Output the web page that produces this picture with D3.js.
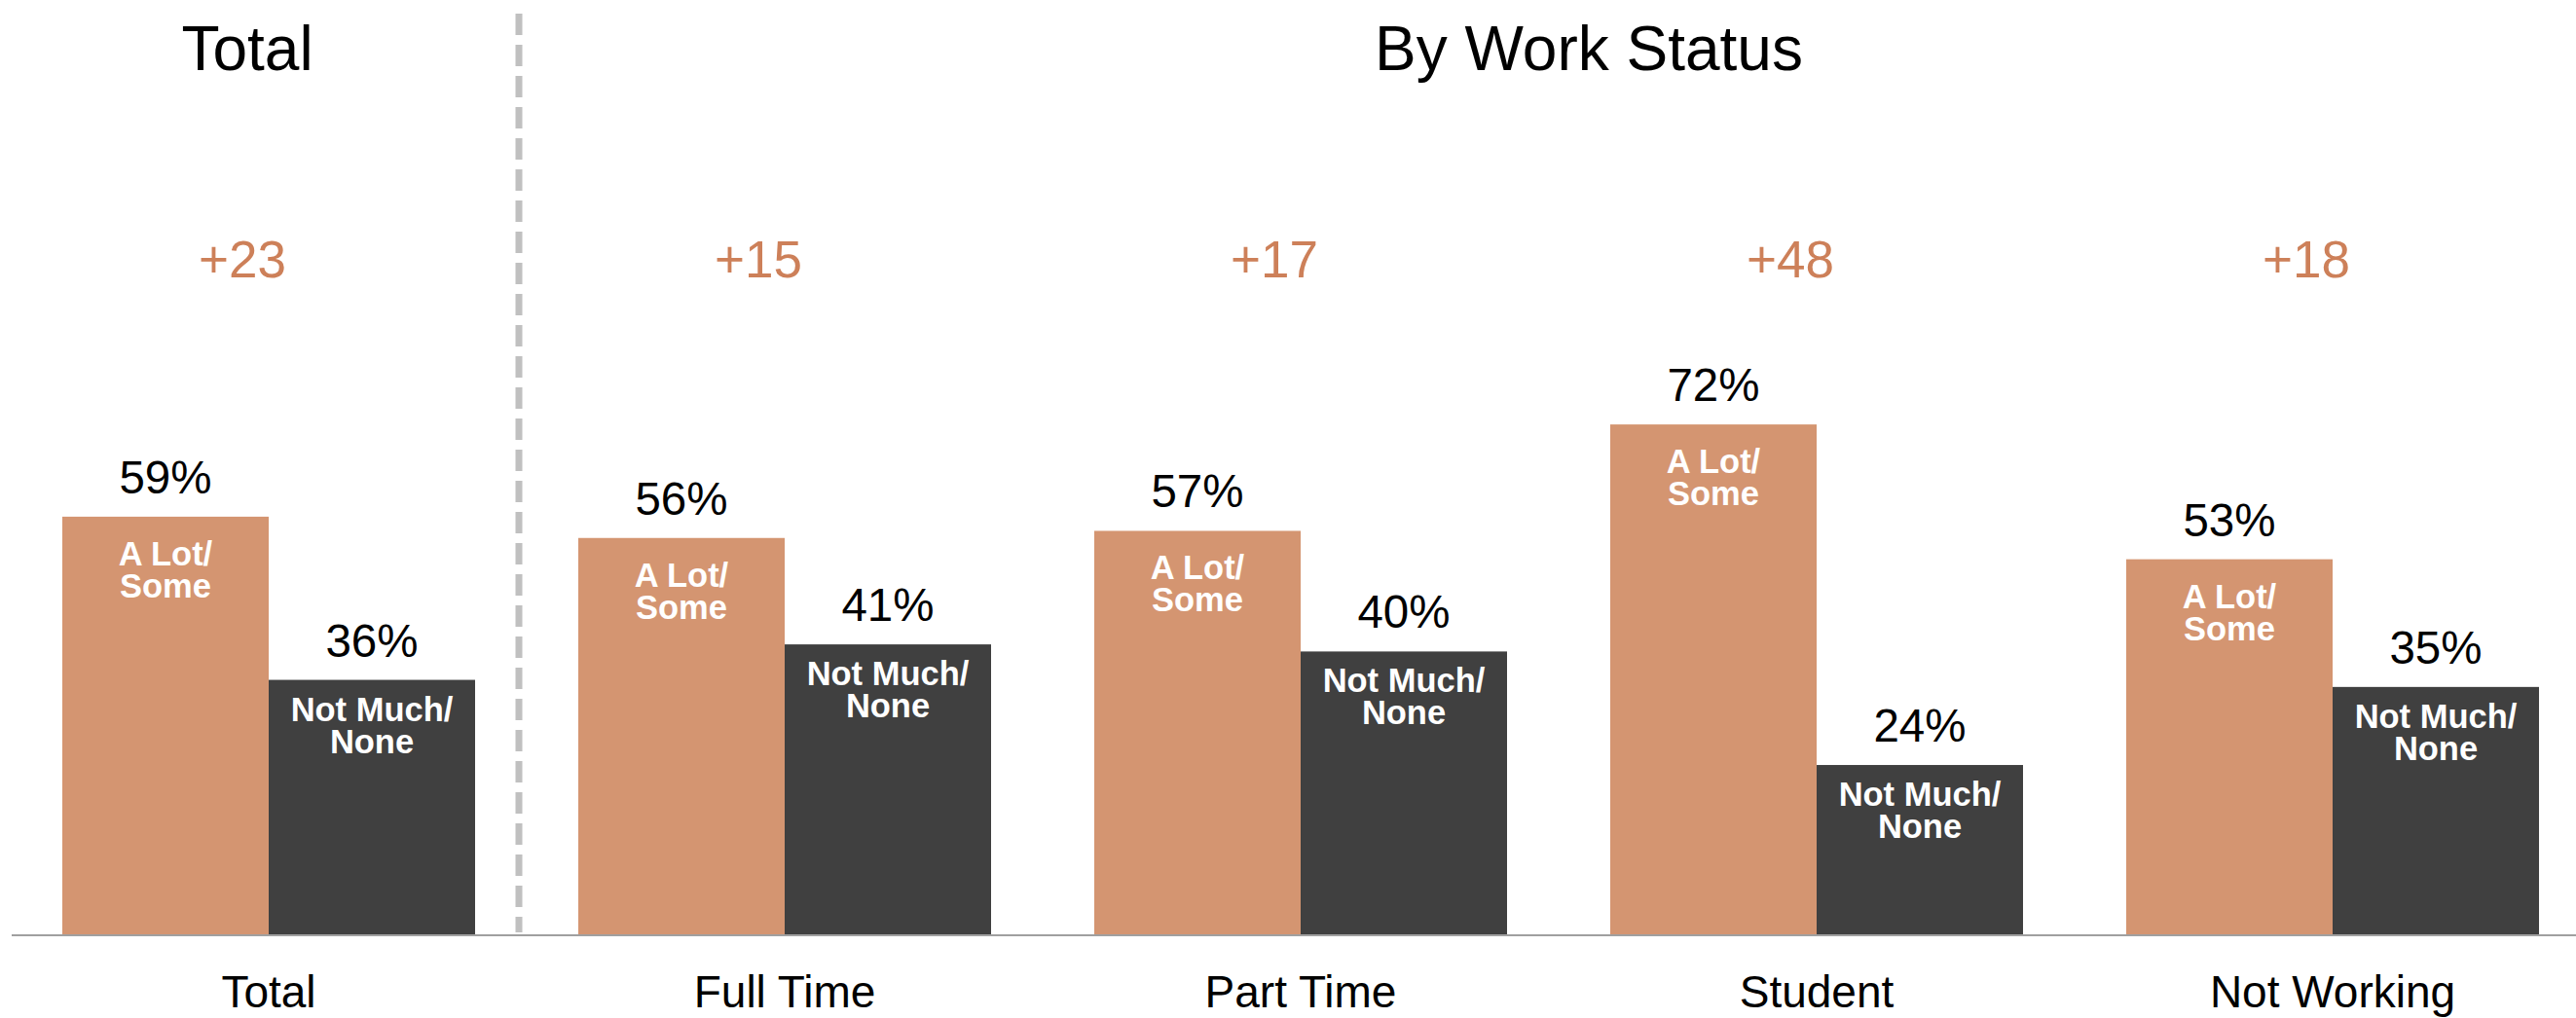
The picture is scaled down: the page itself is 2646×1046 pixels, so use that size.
<!DOCTYPE html>
<html>
<head>
<meta charset="utf-8">
<script src="https://cdn.jsdelivr.net/npm/d3@7"></script>
<style>
  body { margin: 0; background: #fff; }
  text { font-family: "Liberation Sans", Arial, sans-serif; }
</style>
</head>
<body>
<div id="chart"></div>
<script>
// Values
const categories = ['Total', 'Full Time', 'Part Time', 'Student', 'Not Working'];
const aLotSome = [59, 56, 57, 72, 53];
const notMuchNone = [36, 41, 40, 24, 35];
const netLabels = ['+23', '+15', '+17', '+48', '+18'];
const seriesKeys = ['aLot', 'notMuch'];
const seriesNames = { aLot: ['A Lot/', 'Some'], notMuch: ['Not Much/', 'None'] };
const sectionTitles = ['Total', 'By Work Status'];

const width = 2646;
const height = 1046;
const baseline = 961;

const colors = { aLot: '#d49571', notMuch: '#404040' };

const svg = d3.select('#chart')
    .append('svg')
    .attr('width', width)
    .attr('height', height);

const x0 = d3.scaleBand()
    .domain(categories)
    .range([11, 2661])
    .paddingInner(0.2)
    .paddingOuter(0.1);

const x1 = d3.scaleBand()
    .domain(seriesKeys)
    .range([0, x0.bandwidth()]);

const y = d3.scaleLinear()
    .domain([0, 100])
    .range([baseline, 232]);

const rows = categories.map((c, i) => ({
    category: c,
    net: netLabels[i],
    values: [
        { key: 'aLot', value: aLotSome[i] },
        { key: 'notMuch', value: notMuchNone[i] }
    ]
}));

// dashed separator between Total and the rest
const sepX = (x0('Total') + x0.bandwidth() + x0('Full Time')) / 2 - 8;
svg.append('line')
    .attr('x1', sepX).attr('x2', sepX)
    .attr('y1', 14).attr('y2', baseline - 3)
    .attr('stroke', '#c0c0c0')
    .attr('stroke-width', 7)
    .attr('stroke-dasharray', '22,10');

const groups = svg.selectAll('.group')
    .data(rows)
    .enter()
    .append('g')
    .attr('class', 'group')
    .attr('transform', d => `translate(${x0(d.category)},0)`);

groups.selectAll('rect')
    .data(d => d.values)
    .enter()
    .append('rect')
    .attr('x', d => x1(d.key))
    .attr('y', d => y(d.value))
    .attr('width', x1.bandwidth())
    .attr('height', d => baseline - y(d.value))
    .attr('fill', d => colors[d.key]);

// percentage above bars
groups.selectAll('.val')
    .data(d => d.values)
    .enter()
    .append('text')
    .attr('class', 'val')
    .attr('x', d => x1(d.key) + x1.bandwidth() / 2)
    .attr('y', d => y(d.value) - 24)
    .attr('text-anchor', 'middle')
    .attr('font-size', 47.5)
    .attr('fill', '#000')
    .text(d => d.value + '%');

// series names inside bars
groups.selectAll('.inlabel')
    .data(d => d.values)
    .enter()
    .append('text')
    .attr('class', 'inlabel')
    .attr('text-anchor', 'middle')
    .attr('font-size', 34.5)
    .attr('font-weight', 'bold')
    .attr('fill', '#fff')
    .each(function(d) {
        const t = d3.select(this);
        const cx = x1(d.key) + x1.bandwidth() / 2;
        const top = y(d.value) + (d.key === 'aLot' ? 50 : 42);
        seriesNames[d.key].forEach((line, i) => {
            t.append('tspan')
                .attr('x', cx)
                .attr('y', top + i * 33)
                .text(line);
        });
    });

// net difference labels
groups.append('text')
    .attr('x', x0.bandwidth() / 2 - 27)
    .attr('y', 285)
    .attr('text-anchor', 'middle')
    .attr('font-size', 53)
    .attr('fill', '#cd8059')
    .text(d => d.net);

// axis baseline
svg.append('line')
    .attr('x1', 12).attr('x2', width)
    .attr('y1', baseline).attr('y2', baseline)
    .attr('stroke', '#a0a0a0')
    .attr('stroke-width', 2);

// category labels
svg.selectAll('.cat')
    .data(categories)
    .enter()
    .append('text')
    .attr('class', 'cat')
    .attr('x', d => x0(d) + x0.bandwidth() / 2)
    .attr('y', 1035)
    .attr('text-anchor', 'middle')
    .attr('font-size', 46)
    .attr('fill', '#000')
    .text(d => d);

// section titles
const workCenter = (x0('Full Time') + x0('Not Working') + x0.bandwidth()) / 2;
svg.selectAll('.title')
    .data(sectionTitles)
    .enter()
    .append('text')
    .attr('class', 'title')
    .attr('x', (d, i) => i === 0 ? x0('Total') + x0.bandwidth() / 2 - 22 : workCenter + 31)
    .attr('y', 72)
    .attr('text-anchor', 'middle')
    .attr('font-size', 64)
    .attr('fill', '#000')
    .text(d => d);
</script>
</body>
</html>
